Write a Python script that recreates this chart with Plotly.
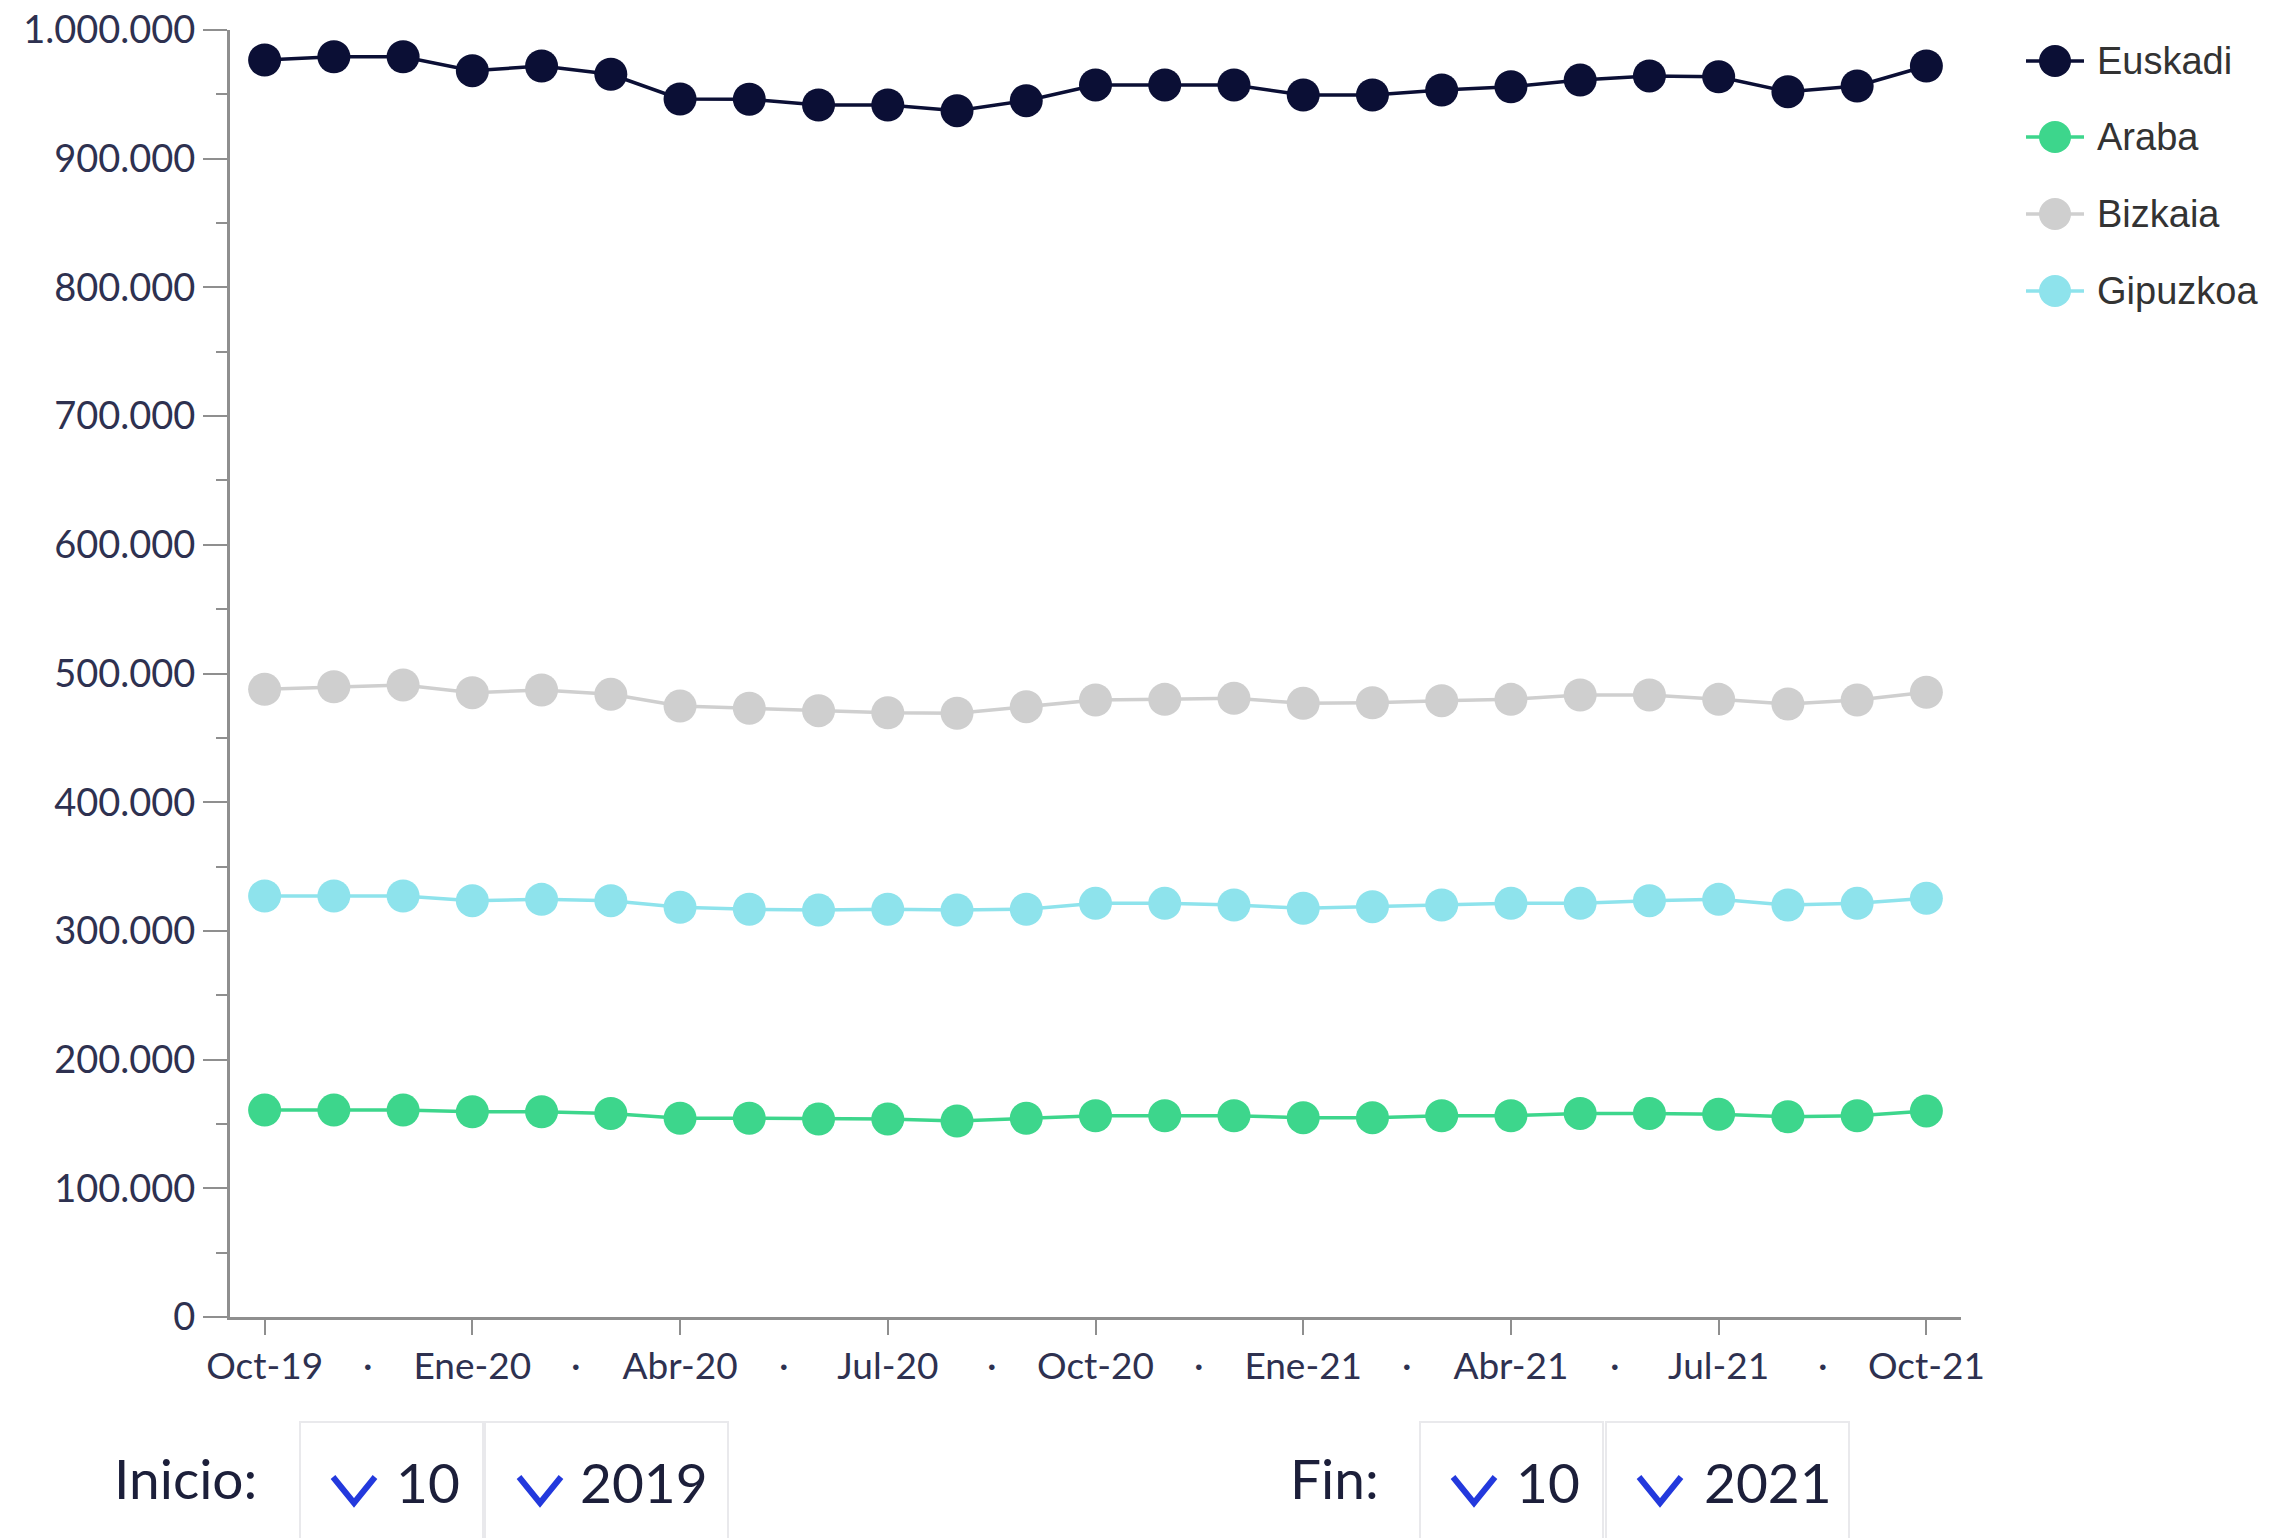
import plotly.graph_objects as go

# ---------------- data ----------------
months = ["Oct-19", "Nov-19", "Dic-19", "Ene-20", "Feb-20", "Mar-20", "Abr-20", "May-20",
          "Jun-20", "Jul-20", "Ago-20", "Sep-20", "Oct-20", "Nov-20", "Dic-20", "Ene-21",
          "Feb-21", "Mar-21", "Abr-21", "May-21", "Jun-21", "Jul-21", "Ago-21", "Sep-21", "Oct-21"]

euskadi = [976700, 979200, 979200, 968400, 972000, 965600, 946400, 946200, 941700, 941700,
           937300, 945100, 957300, 957300, 957300, 949500, 949500, 953400, 955900, 961100,
           964300, 963700, 952100, 956500, 972000]
araba = [160800, 160800, 160800, 159500, 159500, 158200, 154400, 154400, 153800, 153800,
         152300, 154400, 156400, 156400, 156400, 154900, 154900, 156400, 156400, 158200,
         158200, 157500, 155600, 156400, 160100]
bizkaia = [487700, 489700, 491100, 485100, 487200, 483800, 474700, 473000, 471100, 469500,
           469100, 474200, 479400, 479900, 480700, 476800, 477300, 478900, 479900, 483300,
           483300, 479900, 476300, 479400, 485400]
gipuzkoa = [327100, 327100, 327100, 323500, 324500, 323500, 318300, 316800, 316200, 316800,
            316200, 316800, 321400, 321400, 320100, 317600, 318800, 320100, 321400, 321400,
            323500, 324500, 320100, 321400, 325300]

series_names = ["Euskadi", "Araba", "Bizkaia", "Gipuzkoa"]
series_values = [euskadi, araba, bizkaia, gipuzkoa]
series_colors = ["#0b0f35", "#3dd68c", "#cfcfcf", "#8ee3ec"]

tick_labels = ["Oct-19", "Ene-20", "Abr-20", "Jul-20", "Oct-20", "Ene-21", "Abr-21", "Jul-21", "Oct-21"]

inicio_mes, inicio_anio = "10", "2019"
fin_mes, fin_anio = "10", "2021"

# ---------------- layout helpers (screen pixel coords) ----------------
W_FIG, H_FIG = 2269, 1538
L, T, R, B = 230, 30, 1961, 1317  # plot area in pixels
PW, PH = R - L, B - T


def px(x):
    return (x - L) / PW


def py(y):
    return (B - y) / PH


TICK_COLOR = "#2e3150"
AXIS_COLOR = "#8f8f8f"

fig = go.Figure()
x_idx = list(range(len(months)))
for name, vals, col in zip(series_names, series_values, series_colors):
    fig.add_trace(go.Scatter(
        x=x_idx, y=vals, name=name, mode="lines+markers",
        line=dict(color=col, width=3.5),
        marker=dict(color=col, size=33),
        hovertext=months, showlegend=False,
    ))

tickvals = [months.index(t) for t in tick_labels]

fig.update_layout(
    width=W_FIG, height=H_FIG,
    margin=dict(l=L, r=W_FIG - R, t=T, b=H_FIG - B, autoexpand=False),
    paper_bgcolor="white", plot_bgcolor="white",
    separators=",.",
    showlegend=False,
    xaxis=dict(
        range=[-0.5, len(months) - 0.5],
        tickmode="array", tickvals=tickvals, ticktext=tick_labels,
        ticks="outside", ticklen=15, tickwidth=2, tickcolor=AXIS_COLOR,
        showline=True, linecolor=AXIS_COLOR, linewidth=3,
        showgrid=False, zeroline=False, ticklabeloverflow="allow",
        tickfont=dict(family="Lato", size=37, color=TICK_COLOR),
    ),
    yaxis=dict(
        range=[0, 1000000], dtick=100000, tick0=0, tickformat=",d",
        ticks="outside", ticklen=24, tickwidth=2, tickcolor=AXIS_COLOR,
        minor=dict(ticks="outside", ticklen=11, dtick=50000, tickcolor=AXIS_COLOR, tickwidth=2),
        showline=True, linecolor=AXIS_COLOR, linewidth=3,
        showgrid=False, zeroline=False, ticklabeloverflow="allow",
        tickfont=dict(family="Lato", size=38, color=TICK_COLOR),
    ),
)

# small separator dots between the x tick labels
for a, b in zip(tickvals[:-1], tickvals[1:]):
    fig.add_annotation(x=(a + b) / 2, xref="x", y=py(1363), yref="paper",
                       text="·", showarrow=False,
                       font=dict(family="Lato", size=37, color=TICK_COLOR),
                       xanchor="center", yanchor="middle")

# ---------------- legend (drawn as decoration: line + dot + label) ----------------
LEG_ROWS = [61, 137, 214, 291]
for name, col, yy in zip(series_names, series_colors, LEG_ROWS):
    fig.add_shape(type="line", xref="paper", yref="paper",
                  x0=px(2026), x1=px(2084), y0=py(yy), y1=py(yy),
                  line=dict(color=col, width=3.5))
    r = 16
    fig.add_shape(type="circle", xref="paper", yref="paper",
                  x0=px(2055 - r), x1=px(2055 + r), y0=py(yy - r), y1=py(yy + r),
                  line=dict(color=col, width=0), fillcolor=col)
    fig.add_annotation(x=px(2095), y=py(yy), xref="paper", yref="paper", text=name,
                       showarrow=False, xanchor="left", yanchor="middle",
                       font=dict(family="Liberation Sans, Arial", size=38, color="#333333"))

# ---------------- bottom selector controls ----------------
CTRL_FONT = dict(family="Lato", size=55, color="#1c1f3a")
BOX_COLOR = "#e9e9ec"
CHEV_COLOR = "#2339dd"


def add_box(x0, x1):
    fig.add_shape(type="rect", xref="paper", yref="paper",
                  x0=px(x0), x1=px(x1), y0=py(1422), y1=py(1570),
                  line=dict(color=BOX_COLOR, width=2), fillcolor="rgba(0,0,0,0)")


def add_chevron(xc, yc):
    w, h = 21, 13
    path = "M {},{} L {},{} L {},{}".format(px(xc - w), py(yc - h), px(xc), py(yc + h),
                                            px(xc + w), py(yc - h))
    fig.add_shape(type="path", xref="paper", yref="paper", path=path,
                  line=dict(color=CHEV_COLOR, width=6))


def add_text(txt, x, y, anchor="left"):
    fig.add_annotation(x=px(x), y=py(y), xref="paper", yref="paper", text=txt,
                       showarrow=False, font=CTRL_FONT, xanchor=anchor, yanchor="middle")


add_text("Inicio:", 112, 1478)
add_box(300, 483)
add_box(485, 728)
add_chevron(354, 1490)
add_text(inicio_mes, 394, 1482)
add_chevron(540, 1490)
add_text(inicio_anio, 578, 1482)

add_text("Fin:", 1288, 1478)
add_box(1420, 1603)
add_box(1606, 1849)
add_chevron(1474, 1490)
add_text(fin_mes, 1514, 1482)
add_chevron(1660, 1490)
add_text(fin_anio, 1702, 1482)

# remove the default page margin so the figure sits at the window's top-left corner
fig.write_html("out.html",
               config={"displayModeBar": False},
               post_script="document.body.style.margin='0';document.body.style.overflow='hidden';")
